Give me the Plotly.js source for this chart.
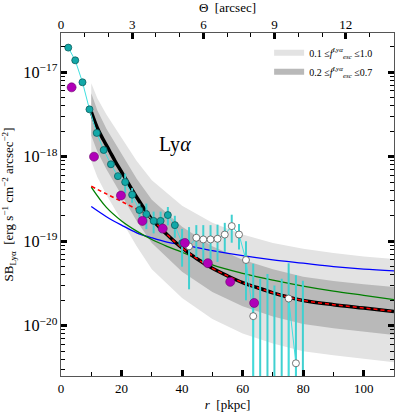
<!DOCTYPE html>
<html>
<head>
<meta charset="utf-8">
<script src="https://cdn.plot.ly/plotly-3.0.1.min.js"></script>
<style>
  body { margin: 0; background: white; }
  #plot { width: 399px; height: 412px; }
</style>
</head>
<body>
<div id="plot"></div>
<script>
// observed profile, SB in units of 1e-20 erg/s/cm2/arcsec2
var rObs = [2.4, 4.7, 7.1, 9.4, 11.8, 14.1, 16.5, 18.8, 21.2, 23.5, 25.9, 28.2, 30.6, 32.9, 35.3, 37.6, 40.0,
            42.3, 44.7, 47.0, 49.4, 51.7, 54.1, 56.4, 58.8, 61.1, 63.5, 65.8, 68.2, 70.5, 72.9, 75.2, 77.6, 79.9];
var sbObs = [1950, 1380, 759, 363, 191, 120, 81.3, 58.9, 50.1, 35.5, 23.4, 20.9, 17.4, 17.4, 20.4, 15.5, 9.5,
             8.7, 11.0, 10.5, 10.5, 10.7, 12.0, 15.1, 12.0, 6.0, 1.3, -1.0, -0.8, -1.5, -1.2, 2.1, 0.36, -1.0];
var sbErr = [60, 40, 25, 15, 10, 7, 5, 4, 13, 7, 4.5, 7, 5, 5, 5, 4.5, 4.5,
             6, 4.5, 5, 5, 5, 4.5, 5.5, 4, 4, 4.1, 4.6, 4.9, 4.5, 4.8, 3.4, 3.6, 4.4];
var nFilled = 17;

// second profile (magenta)
var rMag = [3.5, 10.9, 19.8, 26.9, 33.6, 40.9, 48.5, 55.9, 63.8];
var sbMag = [661, 100, 34.7, 17.4, 14.1, 9.55, 5.5, 3.31, 1.86];

// model curves, log10 SB
var rBlack = [10, 12, 14, 16, 18, 20, 25, 30, 35, 40, 45, 50, 55, 60, 65, 70, 75, 80, 90, 100, 110];
var logBlack = [-17.47, -17.66, -17.80, -17.93, -18.06, -18.18, -18.48, -18.74, -18.92, -19.08, -19.21,
                -19.32, -19.41, -19.49, -19.55, -19.61, -19.66, -19.70, -19.75, -19.79, -19.83];
var rRed = [10, 15, 20, 25, 28, 30, 35, 40, 45, 50, 55, 60, 65, 70, 75, 80, 90, 100, 110];
var logRed = [-18.35, -18.44, -18.53, -18.62, -18.68, -18.74, -18.92, -19.08, -19.21, -19.32, -19.41,
              -19.49, -19.55, -19.61, -19.66, -19.70, -19.75, -19.79, -19.83];
var rCurve = [10, 15, 20, 25, 30, 35, 40, 50, 60, 70, 80, 90, 100, 110];
var logGreen = [-18.36, -18.60, -18.76, -18.88, -18.98, -19.06, -19.13, -19.28, -19.38, -19.46, -19.53, -19.59, -19.64, -19.69];
var logBlue = [-18.59, -18.71, -18.81, -18.90, -18.96, -19.01, -19.04, -19.11, -19.17, -19.22, -19.26, -19.30, -19.33, -19.35];

// f_esc bands, log10 SB
var rBand = [10, 12, 15, 20, 25, 30, 40, 50, 60, 70, 80, 90, 100, 110];
var lightHi = [-17.13, -17.31, -17.50, -17.78, -18.05, -18.28, -18.58, -18.78, -18.92, -19.02, -19.09, -19.14, -19.18, -19.21];
var lightLo = [-18.05, -18.24, -18.45, -18.76, -19.06, -19.33, -19.67, -19.92, -20.09, -20.21, -20.30, -20.35, -20.39, -20.43];
var darkHi = [-17.25, -17.45, -17.67, -17.97, -18.26, -18.51, -18.83, -19.06, -19.22, -19.33, -19.42, -19.47, -19.51, -19.54];
var darkLo = [-17.75, -17.94, -18.15, -18.46, -18.76, -19.02, -19.36, -19.60, -19.77, -19.89, -19.98, -20.03, -20.07, -20.11];

var kpcPerArcsec = 7.84;

function unlog(a) { return a.map(v => Math.pow(10, v)); }
function lin(a) { return a.map(v => v * 1e-20); }

var errX = [], errY = [];
rObs.forEach(function(r, i) {
  var lo = sbObs[i] - sbErr[i];
  errX.push(r, r, null);
  errY.push(lo > 0 ? lo * 1e-20 : 1e-24, (sbObs[i] + sbErr[i]) * 1e-20, null);
});

var lightCol = "#e3e3e3", darkCol = "#b9b9b9";

var traces = [
  {x: rBand, y: unlog(lightLo), mode: "lines", line: {width: 0}, showlegend: false, hoverinfo: "skip"},
  {x: rBand, y: unlog(lightHi), mode: "lines", line: {width: 0}, fill: "tonexty", fillcolor: lightCol, showlegend: false, hoverinfo: "skip"},
  {x: rBand, y: unlog(darkLo), mode: "lines", line: {width: 0}, showlegend: false, hoverinfo: "skip"},
  {x: rBand, y: unlog(darkHi), mode: "lines", line: {width: 0}, fill: "tonexty", fillcolor: darkCol, showlegend: false, hoverinfo: "skip"},
  {x: rCurve, y: unlog(logBlue), mode: "lines", line: {color: "#0000ff", width: 1.3, shape: "spline"}, showlegend: false},
  {x: rCurve, y: unlog(logGreen), mode: "lines", line: {color: "#007f00", width: 1.3, shape: "spline"}, showlegend: false},
  {x: rBlack, y: unlog(logBlack), mode: "lines", line: {color: "black", width: 3.5, shape: "spline"}, showlegend: false},
  {x: rRed, y: unlog(logRed), mode: "lines", line: {color: "#ff0000", width: 1.5, dash: "4px,3px", shape: "spline"}, showlegend: false},
  {x: errX, y: errY, mode: "lines", line: {color: "#40d0d0", width: 2}, showlegend: false, hoverinfo: "skip"},
  {x: rObs, y: lin(sbObs), mode: "lines+markers", showlegend: false,
   line: {color: "#40e0e0", width: 1},
   marker: {size: 7, color: rObs.map((r, i) => i < nFilled ? "#12a8a8" : "white"),
            line: {color: rObs.map((r, i) => i < nFilled ? "#0b5d5d" : "#555555"), width: 0.8}}},
  {x: rMag, y: lin(sbMag), mode: "markers", showlegend: false,
   marker: {size: 9, color: "#b000b8", line: {color: "#6a006a", width: 0.6}}},
  // legend-only entries, placed on the top (arcsec) axis so it gets drawn
  {x: [null], y: [null], xaxis: "x2", mode: "lines", line: {color: lightCol, width: 6},
   name: "0.1 \u2264<i>f</i><sup><i>Ly\u03b1</i></sup><sub><i>esc</i></sub> \u22641.0"},
  {x: [null], y: [null], xaxis: "x2", mode: "lines", line: {color: darkCol, width: 6},
   name: "0.2 \u2264<i>f</i><sup><i>Ly\u03b1</i></sup><sub><i>esc</i></sub> \u22640.7"}
];

var font = {family: "Liberation Serif, DejaVu Serif, serif", size: 13, color: "black"};

var layout = {
  width: 399, height: 412,
  margin: {l: 61, r: 4.5, t: 32.5, b: 36},
  paper_bgcolor: "white", plot_bgcolor: "white",
  font: font,
  showlegend: true,
  legend: {x: 0.625, y: 0.985, xanchor: "left", yanchor: "top", bgcolor: "rgba(0,0,0,0)",
           traceorder: "normal", font: {family: font.family, size: 10}, tracegroupgap: 2},
  xaxis: {
    range: [0, 110], tickvals: [0, 20, 40, 60, 80, 100],
    ticks: "inside", ticklen: 6, tickwidth: 3, tickcolor: "black",
    minor: {ticks: "inside", dtick: 10, ticklen: 4, tickwidth: 1, tickcolor: "black"},
    showline: true, linecolor: "#555", linewidth: 1, mirror: true,
    showgrid: false, zeroline: false,
    title: {text: "<i>r</i>  [pkpc]", font: font, standoff: 8}
  },
  xaxis2: {
    overlaying: "x", side: "top", anchor: "y",
    range: [0, 110 / kpcPerArcsec], tickvals: [0, 3, 6, 9, 12],
    ticks: "inside", ticklen: 6, tickwidth: 3, tickcolor: "black",
    minor: {ticks: "inside", dtick: 1, ticklen: 4, tickwidth: 1, tickcolor: "black"},
    showline: false, showgrid: false, zeroline: false,
    title: {text: "\u0398  [arcsec]", font: font, standoff: 2}
  },
  yaxis: {
    type: "log", range: [-20.594, -16.537], dtick: 1, exponentformat: "power",
    ticks: "inside", ticklen: 6, tickwidth: 3, tickcolor: "black",
    minor: {ticks: "inside", dtick: "D1", ticklen: 4, tickwidth: 1, tickcolor: "black"},
    showline: true, linecolor: "#555", linewidth: 1, mirror: "ticks",
    showgrid: false, zeroline: false,
    title: {text: "SB<sub>Ly\u03b1</sub>  [erg s<sup>\u22121</sup> cm<sup>\u22122</sup> arcsec<sup>\u22122</sup>]", font: font, standoff: 6}
  },
  annotations: [
    {text: "Ly<i>\u03b1</i>", xref: "paper", yref: "paper", x: 0.342, y: 0.713,
     showarrow: false, font: {family: font.family, size: 20, color: "black"}}
  ]
};

Plotly.newPlot("plot", traces, layout, {displayModeBar: false, staticPlot: true});
</script>
</body>
</html>
